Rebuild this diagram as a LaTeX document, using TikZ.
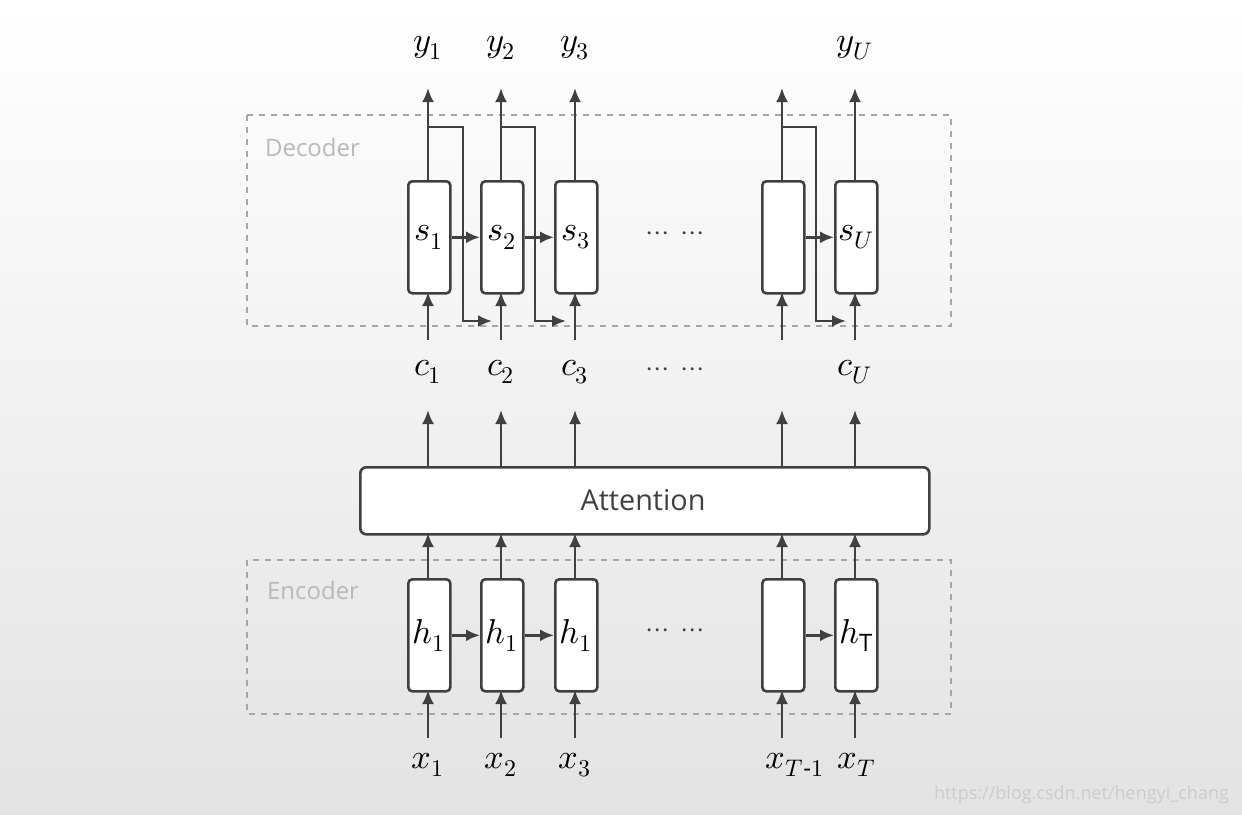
\documentclass[tikz,border=0pt]{standalone}
\usepackage{fontspec}
\setmainfont{Open Sans}
\usepackage{unicode-math}
\setmathfont{Latin Modern Math}
\usetikzlibrary{arrows.meta}
\definecolor{dk}{HTML}{404040}
\begin{document}
\begin{tikzpicture}[x=0.5pt,y=-0.5pt,
  ar/.style={draw=dk,line width=1.3pt,-{Latex[length=7pt,width=6pt]}},
  ln/.style={draw=dk,line width=1.3pt},
  cell/.style={draw=dk,line width=1.3pt,fill=white,rounded corners=2pt,minimum width=21pt,minimum height=56pt,inner sep=0pt,anchor=north west},
  grp/.style={draw=gray!70,dashed,line width=0.8pt},
  glab/.style={text=gray!55,font=\large,anchor=west},
  lab/.style={font=\LARGE,text=black},
  dots/.style={font=\Large,text=dk}]
\shade[top color=white,bottom color=gray!22] (0,0) rectangle (1242,814);
\useasboundingbox (0,0) rectangle (1242,814);
% groups
\draw[grp] (247,115) rectangle (951,326);
\draw[grp] (247,560) rectangle (951,714);
\node[glab] (dec) at (258,147) {Decoder};
\node[glab] (enc) at (260,590) {Encoder};
% attention
\node[draw=dk,line width=1.3pt,fill=white,rounded corners=3pt,minimum width=284.5pt,minimum height=33.5pt,anchor=north west,inner sep=0pt] (att) at (359,466) {};
\node[font=\Large,text=dk] (atttxt) at (643,500) {Attention};
% decoder cells
\foreach \n/\x/\t in {d1/407/{$s_1$},d2/480/{$s_2$},d3/554/{$s_3$},d4/761/{},d5/834/{$s_U$}}{
  \node[cell] (\n) at (\x,180) {};
  \node[lab] at ([xshift=0pt]\n.center) {\t};
}
% encoder cells
\foreach \n/\x/\t in {e1/407/{$h_1$},e2/480/{$h_1$},e3/554/{$h_1$},e4/761/{},e5/834/{$h_{\mathrm{T}}$}}{
  \node[cell] (\n) at (\x,578) {};
  \node[lab] at (\n.center) {\t};
}
% labels
\foreach \n/\x/\t in {y1/428/{$y_1$},y2/501/{$y_2$},y3/575/{$y_3$},y5/855/{$y_U$}}{\node[lab] (\n) at (\x,48) {\t};}
\coordinate (y4) at (782,75);
\foreach \n/\x/\t in {c1/428/{$c_1$},c2/501/{$c_2$},c3/575/{$c_3$},c5/855/{$c_U$}}{\node[lab] (\n) at (\x,372) {\t};}
\coordinate (c4) at (782,340);
\foreach \n/\x/\t in {x1/428/{$x_1$},x2/501/{$x_2$},x3/575/{$x_3$},x4/795/{$x_{T\text{-}1}$},x5/857/{$x_T$}}{\node[lab] (\n) at (\x,765) {\t};}
\node[dots] (dt1) at (675,236) {$\cdots\ \cdots$};
\node[dots] (dt2) at (675,372) {$\cdots\ \cdots$};
\node[dots] (dt3) at (675,633) {$\cdots\ \cdots$};
% vertical arrows
\foreach \n/\x in {1/428,2/501,3/575,4/782,5/855}{
  \draw[ar] (\x,180) -- (\x,88);
  \draw[ar] (\x,340) -- (\x,292);
  \draw[ar] (\x,466) -- (\x,410);
  \draw[ar] (\x,578) -- (\x,533);
  \draw[ar] (\x,738) -- (\x,690);
}
% horizontal recurrences
\draw[ar] (d1.east) -- (d2.west);
\draw[ar] (d2.east) -- (d3.west);
\draw[ar] (d4.east) -- (d5.west);
\draw[ar] (e1.east) -- (e2.west);
\draw[ar] (e2.east) -- (e3.west);
\draw[ar] (e4.east) -- (e5.west);
% feedback
\draw[ar] (428,127) -- (463,127) -- (463,321) -- (492,321);
\draw[ar] (501,127) -- (535,127) -- (535,321) -- (566,321);
\draw[ar] (782,127) -- (816,127) -- (816,321) -- (846,321);
\node[text=gray!40,font=\small,anchor=east] (wm) at (1236,795) {https://blog.csdn.net/hengyi\_chang};
\end{tikzpicture}
\end{document}
